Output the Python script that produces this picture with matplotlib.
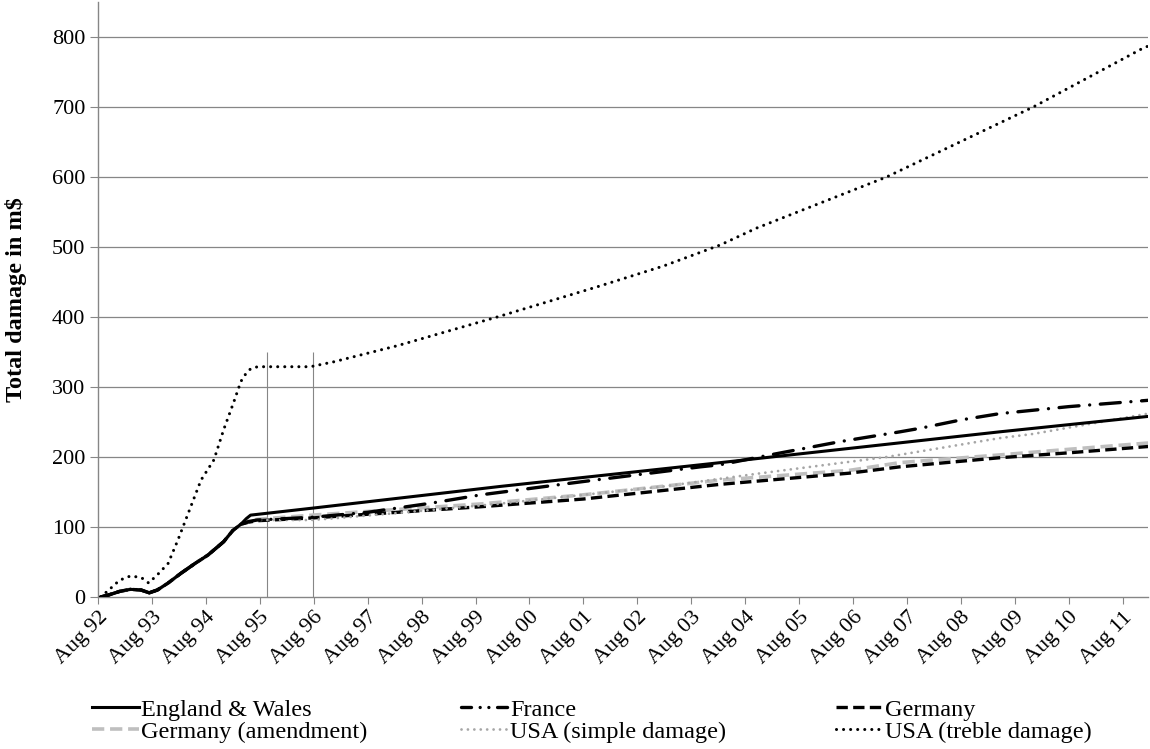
import matplotlib
matplotlib.use("Agg")
import matplotlib.pyplot as plt
from matplotlib.lines import Line2D

plt.rcParams['font.family'] = ['Liberation Serif', 'DejaVu Serif']

# -----------------------------
# data (x = years since Aug 92)
# -----------------------------
tick_labels = ['Aug 92', 'Aug 93', 'Aug 94', 'Aug 95', 'Aug 96', 'Aug 97', 'Aug 98',
               'Aug 99', 'Aug 00', 'Aug 01', 'Aug 02', 'Aug 03', 'Aug 04', 'Aug 05',
               'Aug 06', 'Aug 07', 'Aug 08', 'Aug 09', 'Aug 10', 'Aug 11']

early_x = [0.05, 0.2, 0.4, 0.6, 0.8, 0.95, 1.1, 1.3, 1.54, 1.8, 2.04, 2.33, 2.5, 2.65]
early_y = [0, 3, 8, 11, 10, 6, 10, 20, 34, 48, 60, 79, 95, 104]

england_x = early_x + [2.75, 2.83, 3.98, 7.46, 11.54, 16.72, 19.47]
england_y = early_y + [112, 117, 127, 158, 192, 236, 258]

france_x = early_x + [2.8, 2.95, 3.98, 5.0, 6.17, 7.1, 9.0, 11.17, 11.54, 12.46, 13.76,
                      14.87, 15.24, 16.0, 16.72, 18.0, 19.47]
france_y = early_y + [108, 110, 114, 121, 134, 146, 165, 186, 189, 203, 222,
                      236, 241, 253, 262, 272, 281]

germany_x = early_x + [2.8, 2.95, 3.98, 7.1, 9.0, 11.54, 13.94, 14.87, 16.72, 18.0, 19.47]
germany_y = early_y + [107, 109, 113, 129, 140, 161, 177, 186, 199, 206, 215]

ger_amend_x = early_x + [2.8, 2.95, 3.98, 7.1, 9.0, 11.54, 13.94, 14.87, 16.72, 18.0, 19.47]
ger_amend_y = early_y + [108, 111, 117, 133, 146, 167, 181, 192, 203, 211, 220]

usa_simple_x = early_x + [2.8, 2.96, 3.94, 4.31, 5.55, 7.4, 9.25, 10.49, 12.21, 14.62,
                          16.72, 17.34, 19.47]
usa_simple_y = early_y + [107, 110, 110, 112, 120, 133, 148, 158, 176, 200,
                          227, 233, 262]

usa_treble_x = [0.05, 0.2, 0.4, 0.6, 0.8, 0.94, 1.13, 1.3, 1.48, 1.7, 1.91, 2.15, 2.33,
                2.52, 2.65, 2.75, 2.83, 2.96, 3.94, 4.37, 5.19, 5.55, 7.4, 9.25, 10.49,
                11.54, 12.21, 14.62, 17.34, 19.35, 19.47]
usa_treble_y = [0, 10, 24, 30, 28, 20, 34, 48, 81, 125, 167, 196, 239,
                279, 308, 320, 326, 329, 329, 336, 352, 359, 400, 443, 473,
                503, 527, 600, 700, 783, 787]

marker_x = [3.14, 3.98]
marker_top = 350

# -----------------------------
# plot
# -----------------------------
fig = plt.figure(figsize=(11.5, 7.49), dpi=100)
ax = fig.add_axes([0.0852, 0.2029, 0.9131, 0.7944])

grid_c = '#868686'
for v in range(100, 900, 100):
    ax.axhline(v, color=grid_c, lw=0.9, zorder=0)
ax.vlines(marker_x, 0, marker_top, color=grid_c, lw=0.8, zorder=1)

dot = (0, (0.01, 2.3))
dashed = (0, (3.4, 1.6))
l_eng, = ax.plot(england_x, england_y, color='black', lw=2.2, label='England & Wales', zorder=5)
ax.plot(france_x, france_y, color='black', lw=2.4,
        linestyle=(0, (6, 3.2, 0.01, 3.2)), dash_capstyle='round', zorder=4)
l_ger, = ax.plot(germany_x, germany_y, color='black', lw=2.4, linestyle=dashed,
                 label='Germany', zorder=3)
l_ga, = ax.plot(ger_amend_x, ger_amend_y, color='#bfbfbf', lw=2.6, linestyle=dashed,
                label='Germany (amendment)', zorder=2)
l_us, = ax.plot(usa_simple_x, usa_simple_y, color='#a6a6a6', lw=2.0, linestyle=dot,
                dash_capstyle='round', label='USA (simple damage)', zorder=3)
l_ut, = ax.plot(usa_treble_x, usa_treble_y, color='black', lw=2.2, linestyle=dot,
                dash_capstyle='round', label='USA (treble damage)', zorder=5)

# legend key for France is drawn short: dash + two dots
l_fr = Line2D([], [], color='black', lw=2.4, linestyle=(0, (3.0, 2.6, 0.01, 2.6, 0.01, 2.6)),
              dash_capstyle='round', label='France')

ax.set_xlim(0, 19.47)
ax.set_ylim(0, 850)
ax.set_yticks(range(0, 900, 100))
ax.set_xticks(range(len(tick_labels)))
ax.set_xticklabels(tick_labels, rotation=45, ha='right', rotation_mode='anchor', fontsize=16)
ax.tick_params(axis='y', labelsize=16, length=6, color=grid_c, pad=3)
ax.tick_params(axis='x', length=5, color=grid_c, pad=3)
for s in ['top', 'right']:
    ax.spines[s].set_visible(False)
for s in ['left', 'bottom']:
    ax.spines[s].set_color(grid_c)
    ax.spines[s].set_linewidth(1.0)

ax.set_ylabel('Total damage in m$', fontsize=17.5, fontweight='bold')
ax.yaxis.set_label_coords(-0.0676, 0.5)

# legend: three separate columns (row-wise order like the original)
cols = [([l_eng, l_ga], 92), ([l_fr, l_us], 461), ([l_ger, l_ut], 836)]
for handles, xpix in cols:
    fig.legend(handles=handles, loc='upper left', bbox_to_anchor=(xpix / 1150, 0.067),
               bbox_transform=fig.transFigure, frameon=False, fontsize=17.5,
               handlelength=1.95, handletextpad=0.08, labelspacing=0.0,
               borderaxespad=0, borderpad=0)

fig.savefig('out.png', dpi=100)
